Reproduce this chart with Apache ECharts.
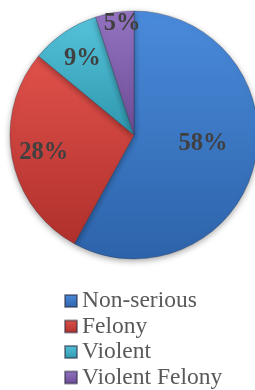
<!DOCTYPE html>
<html><head><meta charset="utf-8">
<script src="https://cdn.jsdelivr.net/npm/echarts@6/dist/echarts.min.js"></script>
<style>html,body{margin:0;padding:0;background:#fff}#c{width:255px;height:390px}</style>
</head><body><div id="c"></div>
<script>
var categories = ['Non-serious', 'Felony', 'Violent', 'Violent Felony'];
var values = [58, 28, 9, 5];
// which label ring carries each slice's percentage label
var labelRing = [0, 1, 1, 2];
var topColors = ['#4a8bdb', '#e0514b', '#55c3da', '#9473c2'];
var bottomColors = ['#2d63aa', '#b0302c', '#2f97ae', '#6c4c94'];

var CX = 134, CY = 135, R = 124;
var rings = [[0, 133], [40, 138], [80, 137]];
var ringStart = [97.4, 90, 87.1];

function grad(i) {
  return new echarts.graphic.LinearGradient(0, 0, 0, 1, [
    {offset: 0, color: topColors[i]}, {offset: 1, color: bottomColors[i]}]);
}

var chart = echarts.init(document.getElementById('c'), null, {renderer: 'canvas'});
var series = [{
  type: 'pie', center: [CX, CY], radius: R, startAngle: 90, clockwise: true,
  data: categories.map(function (n, i) { return {name: n, value: values[i], itemStyle: {color: grad(i)}}; }),
  itemStyle: {borderColor: 'rgba(40,40,60,0.5)', borderWidth: 0.6, shadowBlur: 6, shadowColor: 'rgba(0,0,0,0.35)', shadowOffsetY: 2},
  label: {show: false}, labelLine: {show: false},
  emphasis: {disabled: true}, silent: true
}];
rings.forEach(function (rr, k) {
  series.push({
    type: 'pie', center: [CX, CY], radius: rr, startAngle: ringStart[k], clockwise: true,
    silent: true, emphasis: {disabled: true}, avoidLabelOverlap: false,
    itemStyle: {color: 'rgba(0,0,0,0)', borderWidth: 0},
    labelLine: {show: false},
    label: {
      show: true, position: 'inside', formatter: '{c}%',
      fontFamily: '"Liberation Serif", serif', fontWeight: 'bold', fontSize: 24.5, color: '#404040'
    },
    data: categories.map(function (n, i) {
      return {name: n, value: values[i], label: {show: labelRing[i] === k}};
    })
  });
});
chart.setOption({
  animation: false,
  color: topColors,
  legend: {
    orient: 'vertical', left: 64, top: 289, height: 110, padding: 0,
    itemWidth: 12, itemHeight: 12, itemGap: 1.5, icon: 'rect',
    textStyle: {fontFamily: '"Liberation Serif", serif', fontSize: 23.5, color: '#595959'},
    data: categories.map(function (n, i) { return {name: n, itemStyle: {color: grad(i)}}; })
  },
  series: series
});
</script></body></html>
